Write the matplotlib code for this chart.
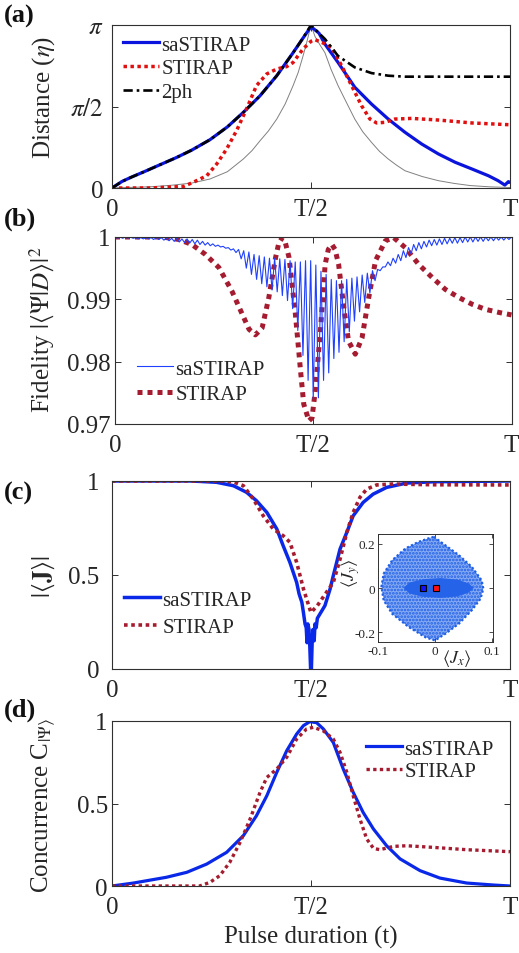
import numpy as np
import matplotlib
matplotlib.use('Agg')
import matplotlib.pyplot as plt
from matplotlib.patches import Polygon

plt.rcParams['font.family'] = ['Liberation Serif', 'DejaVu Serif']
plt.rcParams['mathtext.fontset'] = 'stix'
plt.rcParams['hatch.linewidth'] = 1.3

# ---------------- data ----------------
xtick_vals = [0, 0.5, 1]
xtick_labels = ['0', 'T/2', 'T']

# (a) distance, in units of pi
t_a_sa = [0, 0.025, 0.05, 0.079, 0.12, 0.162, 0.2, 0.246, 0.29, 0.33, 0.372, 0.414, 0.455, 0.48, 0.5,
          0.52, 0.535, 0.568, 0.61, 0.652, 0.694, 0.736, 0.778, 0.82, 0.862, 0.904, 0.946, 0.97, 0.987, 0.996, 1.0]
d_a_sa = [0.0, 0.04, 0.068, 0.098, 0.142, 0.187, 0.232, 0.296, 0.375, 0.464, 0.566, 0.689, 0.83, 0.92, 0.99,
          0.95, 0.883, 0.77, 0.618, 0.515, 0.423, 0.342, 0.27, 0.209, 0.158, 0.117, 0.075, 0.045, 0.018, 0.039, 0.035]
t_a_2ph = [0, 0.025, 0.05, 0.079, 0.12, 0.162, 0.2, 0.246, 0.29, 0.33, 0.372, 0.414, 0.455, 0.48, 0.5,
           0.52, 0.535, 0.568, 0.61, 0.652, 0.694, 0.736, 0.8, 0.9, 1.0]
d_a_2ph = [0.0, 0.04, 0.068, 0.098, 0.142, 0.187, 0.232, 0.296, 0.375, 0.464, 0.566, 0.689, 0.83, 0.92, 1.0,
           0.95, 0.914, 0.81, 0.74, 0.705, 0.689, 0.683, 0.683, 0.683, 0.683]
t_a_st = [0, 0.1, 0.18, 0.204, 0.238, 0.263, 0.288, 0.313, 0.338, 0.363, 0.389, 0.414, 0.439, 0.455, 0.48, 0.5,
          0.51, 0.53, 0.552, 0.577, 0.602, 0.627, 0.648, 0.665, 0.686, 0.711, 0.753, 0.82, 0.904, 1.0]
d_a_st = [0.0, 0.0, 0.01, 0.035, 0.075, 0.147, 0.239, 0.352, 0.485, 0.628, 0.70, 0.73, 0.745, 0.77, 0.853, 0.90,
          0.91, 0.89, 0.863, 0.75, 0.628, 0.505, 0.423, 0.399, 0.403, 0.423, 0.427, 0.417, 0.399, 0.388]
t_a_ref = [0, 0.05, 0.1, 0.15, 0.2, 0.246, 0.29, 0.33, 0.352, 0.372, 0.393, 0.414, 0.435, 0.455, 0.468, 0.48, 0.49, 0.5,
           0.51, 0.522, 0.535, 0.55, 0.568, 0.59, 0.61, 0.63, 0.652, 0.672, 0.694, 0.715, 0.736, 0.78, 0.82, 0.86, 0.9, 0.95, 1.0]
d_a_ref = [0.0, 0.004, 0.008, 0.017, 0.03, 0.055, 0.1, 0.178, 0.23, 0.29, 0.35, 0.423, 0.515, 0.628, 0.71, 0.81, 0.9, 1.0,
           0.93, 0.88, 0.83, 0.73, 0.628, 0.52, 0.423, 0.345, 0.28, 0.225, 0.178, 0.14, 0.106, 0.07, 0.045, 0.028, 0.015, 0.007, 0.003]

# (b) fidelity
t_b_st = [0, 0.12, 0.161, 0.194, 0.228, 0.262, 0.295, 0.321, 0.338, 0.354, 0.371, 0.388, 0.405, 0.413, 0.422,
          0.43, 0.439, 0.455, 0.468, 0.476, 0.489, 0.497, 0.505, 0.518, 0.53, 0.538, 0.547, 0.555, 0.564, 0.577,
          0.589, 0.606, 0.623, 0.64, 0.657, 0.682, 0.703, 0.732, 0.766, 0.8, 0.833, 0.867, 0.901, 0.934, 0.968, 1.0]
f_b_st = [1.0, 1.0, 0.9996, 0.9988, 0.9972, 0.9951, 0.9913, 0.9876, 0.9852, 0.9843, 0.9854, 0.9903, 0.9967, 0.9990, 0.9999,
          0.9990, 0.9967, 0.9876, 0.9785, 0.9732, 0.9705, 0.9710, 0.9753, 0.9849, 0.9956, 0.9980, 0.9988, 0.9980, 0.9956, 0.9887,
          0.9833, 0.9812, 0.9838, 0.9903, 0.9962, 0.9994, 0.9999, 0.9983, 0.9956, 0.9935, 0.9916, 0.9903, 0.9892, 0.9884, 0.9879, 0.9875]
# saSTIRAP: successive maxima / minima of the fast oscillation (155 extrema, evenly spaced from t=0 to t=T)
f_b_sa = [1.0, 0.9998, 1.0, 0.9998, 1.0, 0.9998, 1.0, 0.9998, 0.9999, 0.9997,
          0.9999, 0.9997, 0.9999, 0.9997, 0.9999, 0.9996, 0.9999, 0.9996, 0.9999, 0.9995,
          0.9998, 0.9994, 0.9998, 0.9993, 0.9998, 0.9992, 0.9997, 0.9991, 0.9997, 0.9990,
          0.9996, 0.9989, 0.9995, 0.9988, 0.9993, 0.9987, 0.9991, 0.9986, 0.9989, 0.9985,
          0.9987, 0.9984, 0.9985, 0.9982, 0.9983, 0.9979, 0.9981, 0.9975, 0.9980, 0.9965,
          0.9978, 0.9950, 0.9976, 0.9940, 0.9972, 0.9932, 0.9970, 0.9925, 0.9968, 0.9920,
          0.9966, 0.9915, 0.9966, 0.9912, 0.9965, 0.9906, 0.9964, 0.9898, 0.9962, 0.9885,
          0.9960, 0.9850, 0.9960, 0.9810, 0.9962, 0.9770, 0.9962, 0.9740, 0.9955, 0.9742,
          0.9945, 0.9770, 0.9940, 0.9782, 0.9932, 0.9805, 0.9930, 0.9815, 0.9930, 0.9832,
          0.9932, 0.9848, 0.9934, 0.9865, 0.9936, 0.9880, 0.9939, 0.9895, 0.9942, 0.9910,
          0.9946, 0.9930, 0.9948, 0.9946, 0.9952, 0.9952, 0.9960, 0.9954, 0.9966, 0.9958,
          0.9972, 0.9962, 0.9978, 0.9967, 0.9983, 0.9973, 0.9988, 0.9978, 0.9991, 0.9981,
          0.9993, 0.9984, 0.9995, 0.9986, 0.9996, 0.9987, 0.9997, 0.9988, 0.9998, 0.9989,
          0.9998, 0.9990, 0.9999, 0.9990, 0.9999, 0.9991, 1.0, 0.9992, 1.0, 0.9992,
          1.0, 0.9993, 1.0, 0.9993, 1.0, 0.9994, 1.0, 0.9994, 1.0, 0.9995,
          1.0, 0.9995, 1.0, 0.9996, 1.0]
t_b_sa = np.linspace(0, 1, len(f_b_sa))

# (c) |<J>|
t_c_sa = [0, 0.2, 0.263, 0.305, 0.338, 0.363, 0.389, 0.414, 0.43, 0.447, 0.464, 0.47, 0.477, 0.481, 0.485, 0.488,
          0.49, 0.492, 0.495, 0.497, 0.499, 0.501, 0.503, 0.505, 0.508, 0.51, 0.513, 0.516, 0.535, 0.548, 0.556,
          0.573, 0.59, 0.606, 0.631, 0.656, 0.69, 0.74, 0.808, 1.0]
j_c_sa = [1.0, 1.0, 0.993, 0.975, 0.94, 0.895, 0.833, 0.745, 0.656, 0.567, 0.46, 0.40, 0.355, 0.30, 0.24, 0.22,
          0.14, 0.24, 0.21, 0.12, 0.0, 0.0, 0.15, 0.21, 0.15, 0.24, 0.22, 0.27, 0.337, 0.426, 0.496,
          0.638, 0.727, 0.815, 0.886, 0.93, 0.966, 0.989, 0.996, 1.0]
t_c_st = [0, 0.28, 0.305, 0.33, 0.355, 0.38, 0.405, 0.43, 0.447, 0.464, 0.481, 0.497, 0.5, 0.516, 0.533, 0.556,
          0.573, 0.59, 0.606, 0.623, 0.64, 0.665, 0.705, 0.808, 1.0]
j_c_st = [1.0, 1.0, 0.995, 0.975, 0.904, 0.815, 0.745, 0.709, 0.674, 0.567, 0.426, 0.319, 0.301, 0.337, 0.39, 0.46,
          0.585, 0.727, 0.833, 0.913, 0.957, 0.979, 0.984, 0.98, 0.979]

# inset: trajectory cloud outline and dense core, <Jx>, <Jy>
jx_cloud = [-0.002, 0.015, 0.042, 0.065, 0.082, 0.085, 0.08, 0.065, 0.042, 0.018, 0.0, -0.017, -0.046,
            -0.075, -0.09, -0.094, -0.09, -0.075, -0.052, -0.029, -0.008]
jy_cloud = [0.232, 0.20, 0.149, 0.095, 0.035, -0.003, -0.049, -0.10, -0.162, -0.208, -0.238, -0.223, -0.177,
            -0.117, -0.056, 0.005, 0.065, 0.126, 0.179, 0.209, 0.228]
jx_core = [-0.055, -0.045, -0.02, 0.01, 0.04, 0.06, 0.068, 0.06, 0.04, 0.01, -0.02, -0.045]
jy_core = [0.0, 0.025, 0.04, 0.045, 0.038, 0.02, 0.0, -0.02, -0.038, -0.045, -0.04, -0.025]
jx_start, jy_start = -0.021, 0.0
jx_end, jy_end = 0.002, 0.0

# (d) concurrence
t_d_sa = [0, 0.054, 0.137, 0.188, 0.238, 0.288, 0.33, 0.363, 0.389, 0.414, 0.439, 0.464, 0.481, 0.497, 0.514,
          0.531, 0.556, 0.581, 0.606, 0.631, 0.657, 0.69, 0.724, 0.774, 0.824, 0.891, 0.958, 1.0]
c_d_sa = [0.0, 0.018, 0.053, 0.083, 0.133, 0.204, 0.305, 0.426, 0.547, 0.689, 0.82, 0.921, 0.972, 0.996, 0.99,
          0.952, 0.87, 0.709, 0.568, 0.446, 0.345, 0.244, 0.164, 0.093, 0.048, 0.018, 0.006, 0.0]
t_d_st = [0, 0.22, 0.246, 0.271, 0.296, 0.322, 0.347, 0.372, 0.389, 0.414, 0.439, 0.464, 0.489, 0.506, 0.531,
          0.556, 0.573, 0.59, 0.606, 0.623, 0.64, 0.657, 0.673, 0.707, 0.74, 0.808, 0.891, 1.0]
c_d_st = [0.0, 0.0, 0.022, 0.063, 0.144, 0.265, 0.406, 0.568, 0.658, 0.709, 0.78, 0.891, 0.952, 0.962, 0.94,
          0.891, 0.81, 0.689, 0.547, 0.406, 0.285, 0.228, 0.22, 0.24, 0.244, 0.234, 0.22, 0.208]

# ---------------- figure ----------------
W, H = 519, 954
fig = plt.figure(figsize=(W / 100, H / 100), dpi=100)

BLUE = '#0a14dc'
RED_A = '#e01010'
RED = '#a51c30'
FRAME = '#303030'
FS = 18


def add_ax(l, t, r, b):
    return fig.add_axes([l / W, 1 - b / H, (r - l) / W, (b - t) / H])


def style(ax, ypad):
    for s in ax.spines.values():
        s.set_color(FRAME)
        s.set_linewidth(0.8)
    ax.tick_params(direction='in', top=True, right=True, length=4, width=0.7,
                   colors=FRAME, labelcolor='#262626', labelsize=FS)
    ax.tick_params(axis='y', pad=ypad)
    ax.tick_params(axis='x', pad=7)
    ax.set_xlim(0, 1)
    ax.set_xticks(xtick_vals)
    ax.set_xticklabels(xtick_labels)


def ylab(ax, text, y_px):
    ax.set_ylabel(text, fontsize=FS, color='#262626')
    ax.yaxis.set_label_coords(57 / W, 1 - y_px / H, transform=fig.transFigure)


def legend(ax, handles, x_px, y_px, spacing):
    leg = ax.legend(handles=handles, loc='upper left', bbox_to_anchor=(x_px / W, 1 - y_px / H),
                    bbox_transform=fig.transFigure, frameon=False, fontsize=15, borderpad=0,
                    borderaxespad=0, handlelength=1.75, handletextpad=0.1, labelspacing=spacing)
    for txt in leg.get_texts():
        txt.set_color('#262626')


# (a)
ax = add_ax(112, 26, 510, 189)
style(ax, 6)
ax.plot(t_a_ref, np.array(d_a_ref) * np.pi, color='#808080', lw=0.7)
l1, = ax.plot(t_a_sa, np.array(d_a_sa) * np.pi, color=BLUE, lw=2.3, label='saSTIRAP')
l2, = ax.plot(t_a_st, np.array(d_a_st) * np.pi, color=RED_A, lw=2.5, ls=(0, (1, 1)), label='STIRAP')
l3, = ax.plot(t_a_2ph, np.array(d_a_2ph) * np.pi, color='black', lw=1.9, ls=(0, (3.5, 1.5, 1, 1.5)), label='2ph')
ax.set_ylim(0, np.pi)
ax.set_yticks([0, np.pi / 2, np.pi])
ax.set_yticklabels(['0', r'$\pi/2$', r'$\pi$'])
ylab(ax, r'Distance ($\eta$)', 97)
legend(ax, [l1, l2, l3], 123, 36, 0.2)

# (b)
ax = add_ax(115, 238, 511.5, 425)
style(ax, 3)
l2, = ax.plot(t_b_st, f_b_st, color=RED, lw=3.6, ls=(0, (1, 1)), label='STIRAP')
l1, = ax.plot(t_b_sa, f_b_sa, color='#2040ff', lw=0.8, label='saSTIRAP')
ax.set_ylim(0.97, 1.0)
ax.set_yticks([0.97, 0.98, 0.99, 1.0])
ax.set_yticklabels(['0.97', '0.98', '0.99', '1'])
ylab(ax, r'Fidelity $|\langle\Psi|D\rangle|^2$', 330)
legend(ax, [l1, l2], 137, 360, 0.3)

# (c)
ax = add_ax(112, 482, 510, 670)
style(ax, 9)
l1, = ax.plot(t_c_sa, j_c_sa, color='#0a28e8', lw=2.5, label='saSTIRAP')
l2, = ax.plot(t_c_st, j_c_st, color=RED, lw=2.6, ls=(0, (1, 1)), label='STIRAP')
ax.set_ylim(0, 1)
ax.set_yticks([0, 0.5, 1])
ax.set_yticklabels(['0', '0.5', '1'])
ylab(ax, r'$|\langle\mathbf{J}\rangle|$', 577)
legend(ax, [l1, l2], 124, 591, 0.4)

# inset
axi = add_ax(378, 535, 493, 643)
for s in axi.spines.values():
    s.set_color(FRAME)
    s.set_linewidth(0.7)
axi.tick_params(direction='in', top=True, right=True, length=3, width=0.6, colors=FRAME,
                labelcolor='#262626', labelsize=9.5, pad=2)
axi.add_patch(Polygon(np.column_stack([jx_cloud, jy_cloud]), closed=True, facecolor='#86aaf3',
                      edgecolor='#1f5fe6', lw=0, hatch='.....'))
axi.plot(jx_cloud + jx_cloud[:1], jy_cloud + jy_cloud[:1], color='#1f5fe6', lw=1.6, ls=(0, (1, 1)))
axi.add_patch(Polygon(np.column_stack([jx_core, jy_core]), closed=True, facecolor='#2563e8',
                      edgecolor='none'))
axi.plot([jx_start], [jy_start], 's', ms=5, mfc='#1010ff', mec='black', mew=0.8)
axi.plot([jx_end], [jy_end], 's', ms=5, mfc='#ff1010', mec='black', mew=0.8)
axi.set_xlim(-0.1, 0.102)
axi.set_ylim(-0.245, 0.245)
axi.set_xticks([-0.1, 0, 0.1])
axi.set_xticklabels(['-0.1', '0', '0.1'])
axi.set_yticks([-0.2, 0, 0.2])
axi.set_yticklabels(['-0.2', '0', '0.2'])
axi.set_xlabel(r'$\langle J_x\rangle$', fontsize=13, color='#262626')
axi.xaxis.set_label_coords(457 / W, 1 - 648 / H, transform=fig.transFigure)
axi.set_ylabel(r'$\langle J_y\rangle$', fontsize=13, color='#262626')
axi.yaxis.set_label_coords(362 / W, 1 - 573 / H, transform=fig.transFigure)

# (d)
ax = add_ax(112, 722, 510, 887)
style(ax, 3)
l1, = ax.plot(t_d_sa, c_d_sa, color='#0a28e8', lw=2.3, label='saSTIRAP')
l2, = ax.plot(t_d_st, c_d_st, color=RED, lw=2.4, ls=(0, (1, 1)), label='STIRAP')
ax.set_ylim(0, 1)
ax.set_yticks([0, 0.5, 1])
ax.set_yticklabels(['0', '0.5', '1'])
ylab(ax, r'Concurrence C$_{|\Psi\rangle}$', 805)
ax.set_xlabel('Pulse duration (t)', fontsize=FS, color='#262626')
ax.xaxis.set_label_coords(311 / W, 1 - 926 / H, transform=fig.transFigure)
legend(ax, [l1, l2], 366, 740, 0.15)

# panel letters
for lab, y in [('(a)', 16), ('(b)', 219), ('(c)', 493), ('(d)', 710)]:
    fig.text(4 / W, 1 - y / H, lab, fontsize=19, fontweight='bold', va='center', ha='left', color='#111111')

fig.savefig('out.png', dpi=100)
